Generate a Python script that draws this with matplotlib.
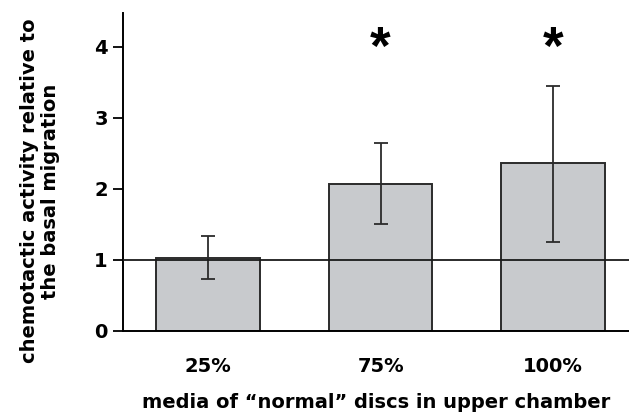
import matplotlib.pyplot as plt  # For drawing the bar chart
import numpy as np  # For positions of the bars

# Data
categories = ["25%", "75%", "100%"]
means = [1.03, 2.07, 2.36]
err_upper = [1.33, 2.64, 3.45]
err_lower = [0.73, 1.50, 1.25]
significant = [False, True, True]

plt.rcParams["font.family"] = ["DejaVu Sans"]
plt.rcParams["font.weight"] = "bold"

x = np.arange(len(categories))
yerr = [np.array(means) - np.array(err_lower), np.array(err_upper) - np.array(means)]

fig = plt.figure(figsize=(6.29, 4.15), dpi=100)
ax = fig.add_axes([0.1956, 0.203, 0.8044, 0.766])

ax.bar(x, means, width=0.6, color="#c8cacd", edgecolor="#2b2b2b", linewidth=1.4, zorder=2)
ax.errorbar(x, means, yerr=yerr, fmt="none", ecolor="#2b2b2b", elinewidth=1.3,
            capsize=5, capthick=1.3, zorder=3)
ax.axhline(1, color="#1a1a1a", linewidth=1.3, zorder=4)

# asterisks for significant groups
for xi, sig in zip(x, significant):
    if sig:
        ax.text(xi, 3.76, "*", ha="center", va="baseline", fontsize=38,
                fontweight="bold", family="Liberation Sans")

ax.set_xlim(-0.493, 2.44)
ax.set_ylim(0, 4.48)
ax.set_yticks([0, 1, 2, 3, 4])
ax.set_xticks(x)
ax.set_xticklabels(categories, fontsize=14, fontweight="bold")
ax.tick_params(axis="x", length=0, pad=19)
ax.tick_params(axis="y", length=7, width=1.3, labelsize=14, pad=4)
for lab in ax.get_yticklabels():
    lab.set_fontweight("bold")

ax.spines["top"].set_visible(False)
ax.spines["right"].set_visible(False)
ax.spines["left"].set_linewidth(1.4)
ax.spines["bottom"].set_linewidth(1.4)

ax.set_xlabel("media of \u201cnormal\u201d discs in upper chamber", fontsize=14,
              fontweight="bold", labelpad=12)
fig.text(0.064, 0.54, "chemotactic activity relative to\nthe basal migration",
         rotation=90, ha="center", va="center", fontsize=14, fontweight="bold",
         linespacing=1.15)

plt.savefig("out.png", dpi=100)
